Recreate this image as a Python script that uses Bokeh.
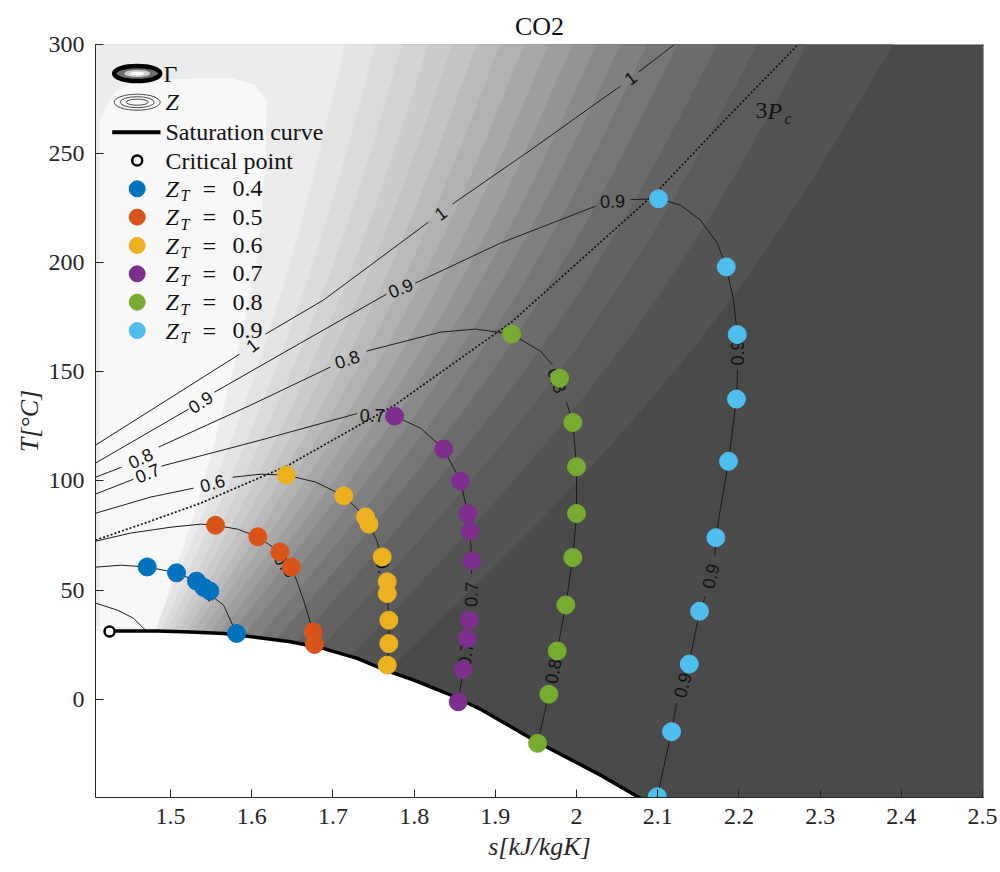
import math
import numpy as np
from bokeh.plotting import figure
from bokeh.models import FixedTicker, CustomJSTickFormatter, Range1d
from bokeh.core.properties import value
from bokeh.embed import file_html
from bokeh.resources import INLINE

nan = float("nan")

# ---------------- data ----------------
# saturation curve (vapour side), s [kJ/kgK], T [C]
sat_s = [1.4249, 1.4836, 1.5246, 1.5656, 1.6068, 1.6478, 1.6888, 1.7299, 1.7669,
         1.7996, 1.8408, 1.8818, 1.9520, 2.0296, 2.0764, 2.0850]
sat_T = [31.2, 31.2, 30.8, 30.1, 28.3, 26.3, 23.2, 18.7, 13.0,
         8.7, 2.6, -4.6, -19.7, -34.8, -44.9, -46.7]
crit_s = [1.4249]
crit_T = [31.0]

# Z_T points
zt_levels = ["0.4", "0.5", "0.6", "0.7", "0.8", "0.9"]
zt_colors = ["#0072BD", "#D95319", "#EDB120", "#7E2F8E", "#77AC30", "#4DBEEE"]
z04_pts_s = [1.4713, 1.5074, 1.5320, 1.5410, 1.5484, 1.5813]
z04_pts_T = [60.6, 57.9, 54.1, 51.2, 49.6, 30.1]
z05_pts_s = [1.5554, 1.6075, 1.6346, 1.6486, 1.6757, 1.6773]
z05_pts_T = [79.7, 74.4, 67.5, 60.6, 30.8, 25.1]
z06_pts_s = [1.6425, 1.7134, 1.7401, 1.7444, 1.7607, 1.7669, 1.7669, 1.7688, 1.7688, 1.7669]
z06_pts_T = [102.7, 93.2, 83.5, 80.2, 65.2, 53.8, 48.4, 36.2, 25.5, 15.6]
z07_pts_s = [1.7759, 1.8366, 1.8571, 1.8661, 1.8686, 1.8711, 1.8679, 1.8654, 1.8605, 1.8543]
z07_pts_T = [129.7, 114.6, 99.9, 85.1, 77.0, 63.4, 36.2, 27.8, 13.6, -1.2]
z08_pts_s = [1.9200, 1.9791, 1.9954, 2.0000, 2.0000, 1.9954, 1.9868, 1.9762, 1.9659, 1.9520]
z08_pts_T = [167.3, 147.1, 126.8, 106.5, 85.1, 64.9, 43.2, 22.1, 2.3, -20.2]
z09_pts_s = [2.1010, 2.1844, 2.1979, 2.1970, 2.1872, 2.1716, 2.1515, 2.1388, 2.1170, 2.0994]
z09_pts_T = [229.3, 198.1, 167.1, 137.5, 109.0, 74.0, 40.3, 16.1, -14.9, -44.7]

# Z iso-lines (NaN = gap for an inline label)
iso03_s = [1.4076, 1.4347, 1.4544, 1.4667, 1.4704]
iso03_T = [44.0, 40.8, 37.1, 32.5, 31.2]
iso04_s = [1.4076, 1.4384, 1.4713, 1.5074, 1.5320, nan, 1.5542, 1.5653, 1.5813]
iso04_T = [60.5, 61.4, 60.6, 57.9, 54.1, nan, 46.3, 43.1, 30.1]
iso05_s = [1.4076, 1.4507, 1.5000, 1.5369, 1.5554, 1.5825, 1.6075, 1.6346, nan,
           1.6486, 1.6552, 1.6638, 1.6757, 1.6773]
iso05_T = [72.4, 76.1, 78.8, 80.2, 79.7, 77.9, 74.4, 67.5, nan,
           60.6, 54.5, 45.4, 30.8, 25.1]
iso06_s = [1.4076, 1.4754, 1.5283, nan, 1.5764, 1.6108, 1.6425, 1.6786, 1.7134, 1.7401,
           1.7444, 1.7537, 1.7599, nan, 1.7669, 1.7669, 1.7688, 1.7688, 1.7669]
iso06_T = [85.2, 92.6, 96.7, nan, 101.7, 103.1, 102.7, 99.5, 93.2, 83.5,
           80.2, 72.9, 65.5, nan, 51.8, 48.4, 36.2, 25.5, 15.6]
iso07_s = [1.4076, 1.4544, nan, 1.4889, 1.6108, 1.7299, nan, 1.7685, 1.7759, 1.8079,
           1.8366, 1.8571, 1.8661, 1.8686, 1.8711, 1.8707, nan, 1.8695, 1.8679, 1.8654,
           nan, 1.8605, 1.8543]
iso07_T = [94.0, 100.8, nan, 106.8, 118.7, 130.9, nan, 130.2, 129.7, 124.2,
           114.6, 99.9, 85.1, 77.0, 63.4, 57.3, nan, 39.9, 36.2, 27.8,
           nan, 13.6, -1.2]
iso08_s = [1.4076, 1.4397, nan, 1.4852, 1.5985, 1.6970, nan, 1.7414, 1.8325, 1.8756,
           1.9200, 1.9557, 1.9704, nan, 1.9877, 1.9954, 2.0000, 2.0000, 1.9954, 1.9868,
           1.9762, nan, 1.9667, 1.9659, 1.9520]
iso08_T = [101.7, 106.3, nan, 115.5, 134.7, 152.2, nan, 159.5, 168.2, 169.6,
           167.3, 159.5, 153.1, nan, 136.1, 126.8, 106.5, 85.1, 64.9, 43.2,
           22.1, nan, 4.1, 2.3, -20.2]
iso09_s = [1.4076, 1.5222, nan, 1.5542, 1.6601, 1.7660, nan, 1.8017, 1.9064, 2.0234,
           nan, 2.0665, 2.1010, 2.1281, 2.1527, 2.1733, 2.1844, 2.1933, 2.1979, 2.1983,
           nan, 2.1983, 2.1970, 2.1872, 2.1749, 2.1700, nan, 2.1589, 2.1515, 2.1388,
           2.1367, nan, 2.1232, 2.1170, 2.0994, 2.0961]
iso09_T = [108.2, 132.9, nan, 140.7, 163.2, 185.6, nan, 190.7, 209.0, 225.9,
           nan, 228.9, 229.3, 226.4, 219.5, 209.0, 198.1, 182.9, 167.1, 164.6,
           nan, 151.2, 137.5, 109.0, 82.0, 65.5, nan, 47.2, 40.3, 16.1,
           13.3, nan, -1.8, -14.9, -44.7, -49.0]
iso10_s = [1.4076, 1.5850, nan, 1.6170, 1.6884, 1.8177, nan, 1.8473, 1.9433, 2.0296,
           2.0542, nan, 2.0764, 2.1195, 2.1404]
iso10_T = [116.4, 158.1, nan, 167.3, 182.9, 218.6, nan, 226.9, 251.6, 274.5,
           280.9, nan, 287.4, 299.7, 305.7]

# 3 Pc isobar (dotted)
p3_s = [1.4076, 1.4754, 1.5369, 1.6429, 1.7759, 1.9200, 2.1010, 2.1872, 2.2722, 2.2820]
p3_T = [72.9, 81.6, 89.8, 106.8, 134.7, 172.8, 233.3, 267.2, 299.7, 303.4]

# inline contour labels
clab_text = ["1", "1", "1", "0.9", "0.9", "0.9", "0.9", "0.9", "0.9",
             "0.8", "0.8", "0.8", "0.8", "0.7", "0.7", "0.7", "0.7",
             "0.6", "0.6", "0.5", "0.4"]
clab_s = [1.6006, 1.8325, 2.0665, 1.5369, 1.7833, 2.0443, 2.1983, 2.1650, 2.1305,
          1.4631, 1.7176, 1.9760, 1.9711, 1.4717, 1.7484, 1.8703, 1.8633,
          1.5517, 1.7635, 1.6416, 1.5431]
clab_T = [162.2, 222.7, 284.6, 136.1, 188.4, 228.2, 158.6, 56.4, 6.4,
          110.4, 155.7, 146.0, 12.8, 103.6, 130.2, 48.1, 20.6,
          99.0, 58.7, 61.4, 50.0]
clab_angle = [37.6, 37.0, 38.0, 33.0, 22.0, 2.0, 90.0, 77.0, 75.0,
              25.0, 18.0, -70.0, 79.0, 22.0, 0.0, 88.0, 82.0,
              15.0, -79.0, -52.0, -40.0]

# Gamma filled-contour band boundaries (top end at T=300, bottom end on the saturation curve)
band_top_s = [2.3904, 2.2845, 2.2229, 2.1736, 2.1244, 2.0874, 2.0542, 2.0246, 1.9951,
              1.9655, 1.9360, 1.9064, 1.8768, 1.8473, 1.8177, 1.7857, 1.7525, 1.7155]
band_bot_s = [1.7672, 1.7217, 1.6847, 1.6539, 1.6293, 1.6084, 1.5899, 1.5739, 1.5603,
              1.5480, 1.5369, 1.5271, 1.5185, 1.5099, 1.5025, 1.4951, 1.4877, 1.4803]
band_bot_T = [12.9, 19.6, 23.5, 25.8, 27.2, 28.2, 29.0, 29.7, 30.2,
              30.4, 30.6, 30.8, 30.85, 30.95, 31.0, 31.1, 31.15, 31.2]
band_colors = ["#4a4a4a", "#535353", "#5b5b5b", "#636363", "#6c6c6c", "#767676", "#808080",
               "#8a8a8a", "#949494", "#9e9e9e", "#a8a8a8", "#b1b1b1", "#bababa", "#c3c3c3",
               "#cbcbcb", "#d3d3d3", "#dbdbdb", "#e3e3e3", "#ececec"]
# near-white blob in the upper-left part
white_s = [1.4126, 1.4126, 1.4323, 1.4631, 1.5739, 1.6047, 1.6182, 1.6170, 1.6084,
           1.5911, 1.5739, 1.5517, 1.5308, 1.5062, 1.4815]
white_T = [27.0, 265.4, 279.1, 283.7, 284.6, 281.4, 274.5, 247.0, 205.8,
           173.7, 146.2, 114.1, 86.6, 59.1, 31.2]

x_ticks = [1.5, 1.6, 1.7, 1.8, 1.9, 2.0, 2.1, 2.2, 2.3, 2.4, 2.5]
y_ticks = [0, 50, 100, 150, 200, 250, 300]

# ---------------- figure ----------------
X0, X1 = 1.4076, 2.5012
Y0, Y1 = -45.05, 300.0
W, H = 1000, 872
FL, FR, FT, FB = 95, 983, 44, 797   # frame position on the page (px)

def sx(px):
    return X0 + (px - FL) / (FR - FL) * (X1 - X0)

def sy(py):
    return Y1 - (py - FT) / (FB - FT) * (Y1 - Y0)

SERIF = "'Liberation Serif', 'DejaVu Serif', serif"
SANS = "'Liberation Sans', Arial, sans-serif"
INK = "#262626"

p = figure(width=W, height=H, x_range=Range1d(X0, X1), y_range=Range1d(Y0, Y1),
           output_backend="svg", toolbar_location=None,
           min_border_left=FL, min_border_right=W - FR,
           min_border_top=FT, min_border_bottom=H - FB)
p.background_fill_color = band_colors[0]
p.border_fill_color = "white"
p.outline_line_color = "#9a9a9a"
p.xgrid.visible = False
p.ygrid.visible = False

p.title.text = "CO2"
p.title.align = "center"
p.title.text_font = SERIF
p.title.text_font_size = "26px"
p.title.text_font_style = "normal"
p.title.text_color = "#111111"
p.title.standoff = 8

fmt = CustomJSTickFormatter(code="return Number(tick.toFixed(3)).toString();")
for ax, ticks in ((p.xaxis, x_ticks), (p.yaxis, y_ticks)):
    ax.ticker = FixedTicker(ticks=ticks)
    ax.formatter = fmt
    ax.major_tick_in = 8
    ax.major_tick_out = 0
    ax.minor_tick_line_color = None
    ax.axis_line_color = INK
    ax.major_tick_line_color = INK
    ax.major_label_text_font = SERIF
    ax.major_label_text_font_size = "24px"
    ax.major_label_text_color = INK
    ax.axis_label_text_font = SERIF
    ax.axis_label_text_font_style = "italic"
    ax.axis_label_text_font_size = "26px"
    ax.axis_label_text_color = INK
p.xaxis.axis_label = "s[kJ/kgK]"
p.yaxis.axis_label = "T[°C]"
p.xaxis.major_label_standoff = 11
p.xaxis.axis_label_standoff = 5
p.yaxis.major_label_standoff = 11
p.yaxis.axis_label_standoff = 2

# ---- Gamma bands: each polygon covers everything left of one boundary ----
xs, ys, cs = [], [], []
for k in range(len(band_top_s)):
    st, sb, tb = band_top_s[k], band_bot_s[k], band_bot_T[k]
    bs, bt = [], []
    for i in range(13):
        t = i / 12
        bs.append(st + t * (sb - st) + 0.09 * (st - sb) * math.sin(math.pi * t))
        bt.append(300.5 + t * (tb - 300.5))
    xs.append([st + 0.01, st + 0.01] + bs + [1.39, 1.39])
    ys.append([310, 300.5] + bt + [-60, 310])
    cs.append(band_colors[k + 1])
p.patches(xs, ys, fill_color=cs, line_color=None)
p.patch(white_s, white_T, fill_color="#f8f8f8", line_color=None)

# two-phase region: white
p.patch([1.39] + sat_s + [2.7, 1.39], [sat_T[0]] + sat_T + [-60, -60],
        fill_color="white", line_color=None)

# ---- Z iso-lines ----
for ls, lt in ((iso03_s, iso03_T), (iso04_s, iso04_T), (iso05_s, iso05_T),
               (iso06_s, iso06_T), (iso07_s, iso07_T), (iso08_s, iso08_T),
               (iso09_s, iso09_T), (iso10_s, iso10_T)):
    p.line(ls, lt, line_color="#1c1c1c", line_width=1.0)

p.line(p3_s, p3_T, line_color="#111111", line_width=1.7, line_dash="2 2")

p.text(x=clab_s, y=clab_T, text=clab_text, angle=clab_angle, angle_units="deg",
       text_font=value(SANS), text_font_size="18px", text_color="#111111",
       text_align="center", text_baseline="middle")

# saturation curve
p.line(sat_s, sat_T, line_color="black", line_width=3.5)

# Z_T points
for ps, pt, col in ((z04_pts_s, z04_pts_T, zt_colors[0]), (z05_pts_s, z05_pts_T, zt_colors[1]),
                    (z06_pts_s, z06_pts_T, zt_colors[2]), (z07_pts_s, z07_pts_T, zt_colors[3]),
                    (z08_pts_s, z08_pts_T, zt_colors[4]), (z09_pts_s, z09_pts_T, zt_colors[5])):
    p.scatter(ps, pt, marker="circle", size=18, fill_color=col, line_color=col, line_width=1)

p.scatter(crit_s, crit_T, marker="circle", size=10, fill_color="white",
          line_color="black", line_width=2.5)

# 3Pc annotation
p.text(x=[sx(755)], y=[sy(110)], text=["3"], text_font=value(SERIF), text_font_size="24px",
       text_color="#111111", text_align="left", text_baseline="middle")
p.text(x=[sx(767)], y=[sy(110)], text=["P"], text_font=value(SERIF), text_font_style="italic",
       text_font_size="24px", text_color="#111111", text_align="left", text_baseline="middle")
p.text(x=[sx(784)], y=[sy(118)], text=["c"], text_font=value(SERIF), text_font_style="italic",
       text_font_size="16px", text_color="#111111", text_align="left", text_baseline="middle")

# ---- legend (drawn by hand) ----
lx_icon, lx_text = 136.7, 165
# Gamma icon
p.ellipse(x=[sx(lx_icon)], y=[sy(73)], width=[46], height=[15], width_units="screen",
          height_units="screen", fill_color="#6e6e6e", line_color="black", line_width=4.5)
p.ellipse(x=[sx(lx_icon)], y=[sy(73)], width=[26], height=[7], width_units="screen",
          height_units="screen", fill_color="#cfcfcf", line_color=None)
p.ellipse(x=[sx(lx_icon)], y=[sy(73)], width=[14], height=[3.5], width_units="screen",
          height_units="screen", fill_color="white", line_color=None)
# Z icon
p.ellipse(x=[sx(lx_icon)] * 3, y=[sy(101.7)] * 3, width=[46, 34, 22], height=[16, 11, 6],
          width_units="screen", height_units="screen", fill_color=None,
          line_color="#4a4a4a", line_width=1)
p.line([sx(111.7), sx(160)], [sy(131.7), sy(131.7)], line_color="black", line_width=4)
p.scatter([sx(lx_icon)], [sy(160)], marker="circle", size=10, fill_color="white",
          line_color="black", line_width=2.5)
p.text(x=[sx(lx_text - 2)], y=[sy(73)], text=["Γ"], text_font=value(SERIF),
       text_font_size="24px", text_color="#111111", text_align="left", text_baseline="middle")
p.text(x=[sx(lx_text)], y=[sy(101.7)], text=["Z"], text_font=value(SERIF),
       text_font_style="italic", text_font_size="24px", text_color="#111111",
       text_align="left", text_baseline="middle")
p.text(x=[sx(lx_text)] * 2, y=[sy(131.7), sy(160)], text=["Saturation curve", "Critical point"],
       text_font=value(SERIF), text_font_size="24px", text_color="#111111",
       text_align="left", text_baseline="middle")
leg_y = [188.3 + 28.35 * i for i in range(6)]
p.scatter([sx(lx_icon)] * 6, [sy(v) for v in leg_y], marker="circle", size=16,
          fill_color=zt_colors, line_color=zt_colors)
p.text(x=[sx(lx_text)] * 6, y=[sy(v) for v in leg_y], text=["Z"] * 6, text_font=value(SERIF),
       text_font_style="italic", text_font_size="24px", text_color="#111111",
       text_align="left", text_baseline="middle")
p.text(x=[sx(lx_text + 15)] * 6, y=[sy(v + 7) for v in leg_y], text=["T"] * 6,
       text_font=value(SERIF), text_font_style="italic", text_font_size="16px",
       text_color="#111111", text_align="left", text_baseline="middle")
p.text(x=[sx(lx_text + 37)] * 6, y=[sy(v) for v in leg_y], text=["="] * 6,
       text_font=value(SERIF), text_font_size="24px", text_color="#111111",
       text_align="left", text_baseline="middle")
p.text(x=[sx(lx_text + 67)] * 6, y=[sy(v) for v in leg_y], text=zt_levels,
       text_font=value(SERIF), text_font_size="24px", text_color="#111111",
       text_align="left", text_baseline="middle")

open("out.html", "w").write(file_html(p, INLINE))
